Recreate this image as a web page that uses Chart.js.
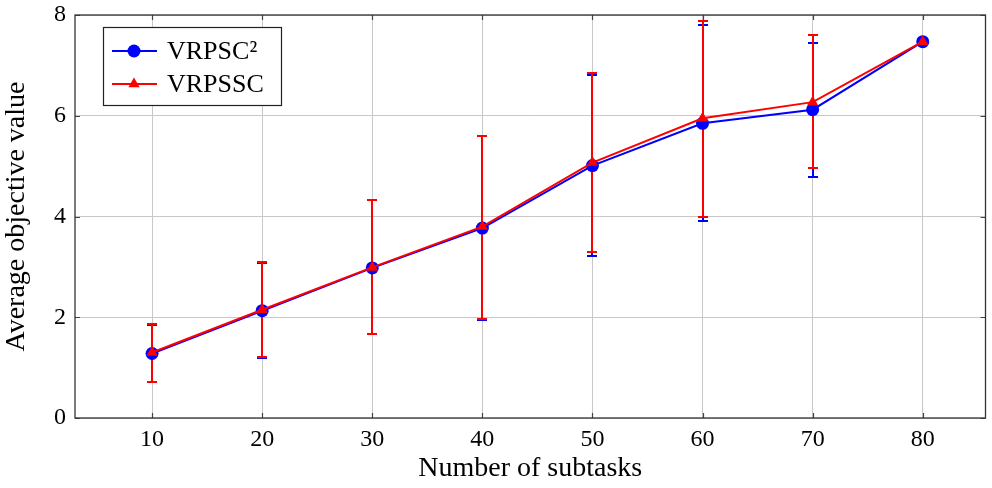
<!DOCTYPE html>
<html lang="en">
<head>
    <meta charset="UTF-8">
    <title>Average objective value vs number of subtasks</title>
    <script src="https://cdn.jsdelivr.net/npm/chart.js@4"></script>
    <style>
        html, body { margin: 0; padding: 0; background: #fff; }
        #wrap { width: 992px; height: 488px; }
    </style>
</head>
<body>
    <div id="wrap"><canvas id="myChart"></canvas></div>
</body>
<script>
    // data
    var subtasks = [10, 20, 30, 40, 50, 60, 70, 80];
    var labels = ['VRPSC\u00B2', 'VRPSSC'];
    var vrpsc2Mean  = [1.28, 2.13, 2.98, 3.77, 5.01, 5.85, 6.12, 7.47];
    var vrpsc2Upper = [1.85, 3.08, 4.32, 5.59, 6.81, 7.81, 7.45, 7.47];
    var vrpsc2Lower = [0.71, 1.20, 1.66, 1.94, 3.22, 3.92, 4.79, 7.47];
    var vrpsscMean  = [1.30, 2.15, 2.99, 3.80, 5.07, 5.95, 6.27, 7.47];
    var vrpsscUpper = [1.86, 3.09, 4.33, 5.60, 6.85, 7.88, 7.60, 7.47];
    var vrpsscLower = [0.72, 1.21, 1.67, 1.96, 3.30, 4.00, 4.96, 7.47];
    var xTicks = [10, 20, 30, 40, 50, 60, 70, 80];
    var yTicks = [0, 2, 4, 6, 8];

    var FONT = "'Liberation Serif', 'DejaVu Serif', serif";
    Chart.defaults.font.family = FONT;
    Chart.defaults.color = '#000';

    function pts(arr) {
        return subtasks.map((x, i) => ({ x: x, y: arr[i] }));
    }

    // frame, inward tick marks and error bars
    var framePlugin = {
        id: 'frame',
        beforeDatasetsDraw(chart) {
            var c = chart.ctx, a = chart.chartArea;
            var xs = chart.scales.x, ys = chart.scales.y;
            c.save();
            c.strokeStyle = '#444';
            c.lineWidth = 1.2;
            c.beginPath();
            xTicks.forEach(v => {
                var px = Math.round(xs.getPixelForValue(v)) + 0.5;
                c.moveTo(px, a.bottom); c.lineTo(px, a.bottom - 5);
                c.moveTo(px, a.top); c.lineTo(px, a.top + 5);
            });
            yTicks.forEach(v => {
                var py = Math.round(ys.getPixelForValue(v)) + 0.5;
                c.moveTo(a.left, py); c.lineTo(a.left + 5, py);
                c.moveTo(a.right, py); c.lineTo(a.right - 5, py);
            });
            c.stroke();
            c.strokeStyle = '#333';
            c.lineWidth = 1.3;
            c.strokeRect(a.left, a.top, a.right - a.left, a.bottom - a.top);

            var bars = [
                { lo: vrpsc2Lower, hi: vrpsc2Upper, color: '#0000ff' },
                { lo: vrpsscLower, hi: vrpsscUpper, color: '#ff0000' }
            ];
            bars.forEach(b => {
                c.strokeStyle = b.color;
                c.lineWidth = 2;
                c.beginPath();
                subtasks.forEach((x, i) => {
                    if (b.hi[i] === b.lo[i]) return;
                    var px = Math.round(xs.getPixelForValue(x));
                    var top = Math.round(ys.getPixelForValue(b.hi[i]));
                    var bot = Math.round(ys.getPixelForValue(b.lo[i]));
                    c.moveTo(px, top); c.lineTo(px, bot);
                    c.moveTo(px - 5, top); c.lineTo(px + 5, top);
                    c.moveTo(px - 5, bot); c.lineTo(px + 5, bot);
                });
                c.stroke();
            });
            c.restore();
        }
    };

    // pgfplots style legend box
    var legendPlugin = {
        id: 'boxLegend',
        afterDraw(chart) {
            var c = chart.ctx, a = chart.chartArea;
            var bx = a.left + 28, by = a.top + 12, bw = 178, bh = 78;
            c.save();
            c.fillStyle = '#fff';
            c.fillRect(bx, by, bw, bh);
            c.strokeStyle = '#222';
            c.lineWidth = 1.2;
            c.strokeRect(bx + 0.5, by + 0.5, bw, bh);
            chart.data.datasets.slice().sort((p, q) => p.legendRank - q.legendRank).forEach((ds, i) => {
                var cy = by + 24 + i * 33;
                c.strokeStyle = ds.borderColor;
                c.lineWidth = 2;
                c.beginPath();
                c.moveTo(bx + 9, cy); c.lineTo(bx + 54, cy);
                c.stroke();
                c.fillStyle = ds.borderColor;
                Chart.helpers.drawPoint(c, {
                    pointStyle: ds.pointStyle, radius: ds.pointRadius, borderWidth: 0
                }, bx + 31, cy);
                c.fillStyle = '#000';
                c.font = '26px ' + FONT;
                c.textBaseline = 'middle';
                c.fillText(ds.label, bx + 64, cy + 1);
            });
            c.restore();
        }
    };

    var ctx = document.getElementById('myChart').getContext('2d');
    var chart = new Chart(ctx, {
        type: 'line',
        data: {
            datasets: [{
                label: labels[0],
                legendRank: 0,
                order: 2,
                data: pts(vrpsc2Mean),
                borderColor: '#0000ff',
                backgroundColor: '#0000ff',
                borderWidth: 2,
                pointStyle: 'circle',
                pointRadius: 6.5,
                pointBorderWidth: 0,
                tension: 0
            }, {
                label: labels[1],
                legendRank: 1,
                order: 1,
                data: pts(vrpsscMean),
                borderColor: '#ff0000',
                backgroundColor: '#ff0000',
                borderWidth: 2,
                pointStyle: 'triangle',
                pointRadius: 6.5,
                pointBorderWidth: 0,
                tension: 0
            }]
        },
        options: {
            responsive: true,
            maintainAspectRatio: false,
            animation: false,
            layout: { padding: { top: 15, right: 1, left: 0, bottom: 0 } },
            plugins: {
                legend: { display: false },
                tooltip: { enabled: false }
            },
            scales: {
                x: {
                    type: 'linear',
                    min: 3,
                    max: 85.7,
                    afterBuildTicks: s => { s.ticks = xTicks.map(v => ({ value: v })); },
                    afterFit: s => { s.height = 70; s.paddingLeft = 0; s.paddingRight = 0; },
                    grid: { color: '#c8c8c8', lineWidth: 1, drawTicks: false },
                    border: { display: false },
                    ticks: { font: { size: 24 }, padding: 7, maxRotation: 0 },
                    title: { display: true, text: 'Number of subtasks', font: { size: 28 }, padding: { top: 0, bottom: 3 } }
                },
                y: {
                    min: 0,
                    max: 8,
                    afterBuildTicks: s => { s.ticks = yTicks.map(v => ({ value: v })); },
                    afterFit: s => { s.width = 75; s.paddingTop = 0; s.paddingBottom = 0; },
                    grid: { color: '#c8c8c8', lineWidth: 1, drawTicks: false },
                    border: { display: false },
                    ticks: { font: { size: 24 }, padding: 9 },
                    title: { display: true, text: 'Average objective value', font: { size: 28 }, padding: { top: 0, bottom: 0 } }
                }
            }
        },
        plugins: [framePlugin, legendPlugin]
    });
</script>
</html>
